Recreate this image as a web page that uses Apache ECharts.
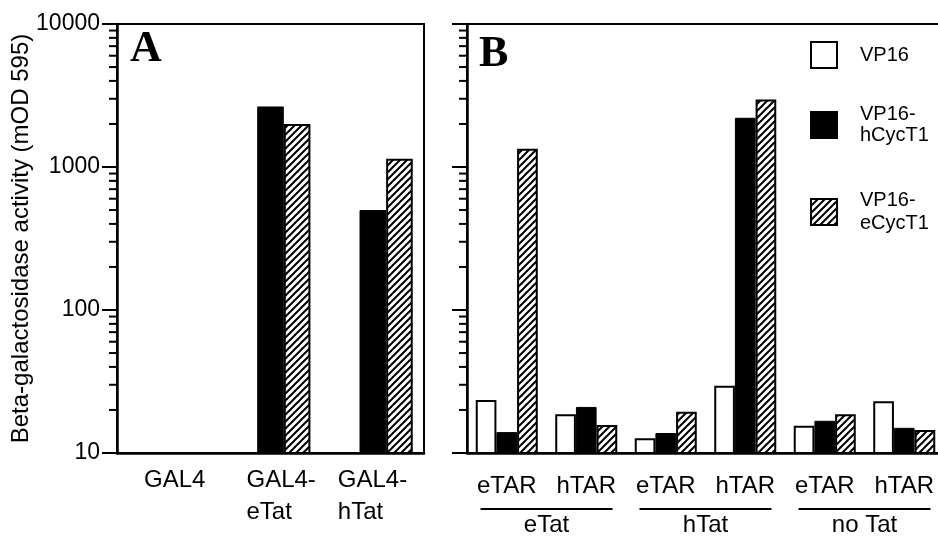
<!DOCTYPE html>
<html><head><meta charset="utf-8">
<script src="https://cdn.jsdelivr.net/npm/echarts@6/dist/echarts.min.js"></script>
<style>html,body{margin:0;padding:0;background:#fff}#c{width:938px;height:538px}</style>
</head><body><div id="c"></div>
<script>
// ---- data ----
const seriesNames = ['VP16', 'VP16-hCycT1', 'VP16-eCycT1'];
const legendLabels = ['VP16', 'VP16-\nhCycT1', 'VP16-\neCycT1'];
const categoriesA = ['GAL4', 'GAL4-\neTat', 'GAL4-\nhTat'];
const vp16A = [null, null, null];
const hCycT1A = [null, 2650, 500];
const eCycT1A = [null, 2000, 1140];
const categoriesB = ['eTAR', 'hTAR', 'eTAR', 'hTAR', 'eTAR', 'hTAR'];
const groupsB = ['eTat', 'hTat', 'no Tat'];
const vp16B = [23.5, 18.7, 12.7, 29.5, 15.5, 23];
const hCycT1B = [14, 21, 13.8, 2210, 16.8, 15];
const eCycT1B = [1340, 15.7, 19.4, 2960, 18.7, 14.5];
const minorTicks = [20, 30, 40, 50, 60, 70, 80, 90, 200, 300, 400, 500, 600, 700, 800, 900, 2000, 3000, 4000, 5000, 6000, 7000, 8000, 9000];
const yAxisName = 'Beta-galactosidase activity (mOD 595)';

const FONT = '"Liberation Sans", Arial, Helvetica, sans-serif';
const SERIF = '"Liberation Serif", "Times New Roman", serif';

function makeHatch() {
  const s = 7;
  const c = document.createElement('canvas');
  c.width = s; c.height = s;
  const ctx = c.getContext('2d');
  ctx.fillStyle = '#fff'; ctx.fillRect(0, 0, s, s);
  ctx.strokeStyle = '#000'; ctx.lineWidth = 2;
  ctx.beginPath();
  ctx.moveTo(0, s); ctx.lineTo(s, 0);
  ctx.moveTo(-1, 1); ctx.lineTo(1, -1);
  ctx.moveTo(s - 1, s + 1); ctx.lineTo(s + 1, s - 1);
  ctx.stroke();
  return c;
}
const hatch = { image: makeHatch(), repeat: 'repeat' };

const styles = [
  { color: '#fff', borderColor: '#000', borderWidth: 2 },
  { color: '#000', borderColor: '#000', borderWidth: 1 },
  { color: hatch, borderColor: '#000', borderWidth: 2 }
];

function bars(data, xi, yi) {
  return data.map((d, k) => ({
    type: 'bar', name: seriesNames[k], xAxisIndex: xi, yAxisIndex: yi,
    data: d, barWidth: '26%', barGap: '0%', itemStyle: styles[k], silent: true,
    animation: false
  }));
}

function minorTickSeries(xi, yi) {
  return {
    type: 'custom', xAxisIndex: xi, yAxisIndex: yi, silent: true, clip: false, z: 5,
    animation: false,
    data: minorTicks.map(v => [0, v]),
    renderItem: (params, api) => {
      const y = api.coord([0, api.value(1)])[1];
      const x = params.coordSys.x;
      return { type: 'line', shape: { x1: x - 8, y1: y, x2: x, y2: y }, style: { stroke: '#000', lineWidth: 2 } };
    }
  };
}

function yAxis(gi, showLabels) {
  return {
    type: 'log', logBase: 10, min: 10, max: 10000, gridIndex: gi,
    axisLine: { show: true, lineStyle: { color: '#000', width: 2.5 } },
    axisTick: { show: true, length: 15, lineStyle: { color: '#000', width: 2 } },
    axisLabel: { show: showLabels, margin: 17, fontSize: 23, color: '#000', fontFamily: FONT,
      formatter: v => String(Math.round(v)) },
    splitLine: { show: false },
    name: showLabels ? yAxisName : '', nameLocation: 'middle', nameGap: 84, nameMoveOverlap: false,
    nameTextStyle: { fontSize: 24, color: '#000', fontFamily: FONT }
  };
}

const richA = {
  c0: { fontSize: 24, lineHeight: 32, fontFamily: FONT, color: '#000', padding: [0, 0, 0, 13] },
  c1: { fontSize: 24, lineHeight: 32, fontFamily: FONT, color: '#000', width: 70, align: 'left', padding: [0, 0, 0, 22] },
  c2: { fontSize: 24, lineHeight: 32, fontFamily: FONT, color: '#000', width: 70, align: 'left' }
};

const legendTops = [41, 104, 179];
const legendPads = [[0, 0, 0, 18], [0, 0, 0, 18], [0, 0, 20, 18]];
const legendLH = [22, 21, 23];

const option = {
  backgroundColor: '#fff',
  animation: false,
  title: [
    { text: 'A', left: 130, top: 28, padding: 0, textStyle: { fontFamily: SERIF, fontWeight: 'bold', fontSize: 44, color: '#000' } },
    { text: 'B', left: 479, top: 33, padding: 0, textStyle: { fontFamily: SERIF, fontWeight: 'bold', fontSize: 44, color: '#000' } }
  ],
  legend: seriesNames.map((n, k) => ({
    data: [n], orient: 'vertical', left: 810, top: legendTops[k], padding: 0,
    itemWidth: 26, itemHeight: 26, selectedMode: false, icon: 'rect',
    formatter: name => legendLabels[seriesNames.indexOf(name)],
    textStyle: { fontSize: 20, lineHeight: legendLH[k], color: '#000', fontFamily: FONT, padding: legendPads[k] }
  })),
  grid: [
    { left: 117, top: 24, width: 307, height: 429, show: true, borderColor: '#000', borderWidth: 2, backgroundColor: 'transparent', outerBoundsMode: 'none', containLabel: false },
    { left: 467, top: 24, width: 477, height: 429, show: true, borderColor: '#000', borderWidth: 2, backgroundColor: 'transparent', outerBoundsMode: 'none', containLabel: false }
  ],
  xAxis: [
    { type: 'category', gridIndex: 0, data: categoriesA,
      axisLine: { lineStyle: { color: '#000', width: 2.5 } },
      axisTick: { length: 17, lineStyle: { color: '#000', width: 2 } },
      axisLabel: { interval: 0, margin: 11, rich: richA,
        formatter: (v, i) => v.split('\n').map(l => '{c' + i + '|' + l + '}').join('\n') } },
    { type: 'category', gridIndex: 1, data: categoriesB,
      axisLine: { lineStyle: { color: '#000', width: 2.5 } },
      axisTick: { length: 17, lineStyle: { color: '#000', width: 2 } },
      axisLabel: { interval: 0, margin: 21, fontSize: 24, lineHeight: 24, color: '#000', fontFamily: FONT } },
    { type: 'category', gridIndex: 1, data: groupsB, position: 'bottom', offset: 0,
      axisLine: { show: false }, axisTick: { show: false },
      axisLabel: { interval: 0, margin: 55,
        formatter: v => '{ln| }\n{t|' + v + '}',
        rich: {
          ln: { width: 132, height: 2, lineHeight: 2, backgroundColor: '#000', fontSize: 2 },
          t: { fontSize: 24, lineHeight: 24, padding: [6, 0, 0, 0], color: '#000', fontFamily: FONT }
        } } }
  ],
  yAxis: [yAxis(0, true), yAxis(1, false)],
  series: [
    ...bars([vp16A, hCycT1A, eCycT1A], 0, 0),
    ...bars([vp16B, hCycT1B, eCycT1B], 1, 1),
    minorTickSeries(0, 0),
    minorTickSeries(1, 1)
  ]
};

const chart = echarts.init(document.getElementById('c'), null, { renderer: 'canvas' });
chart.setOption(option);
</script>
</body></html>
